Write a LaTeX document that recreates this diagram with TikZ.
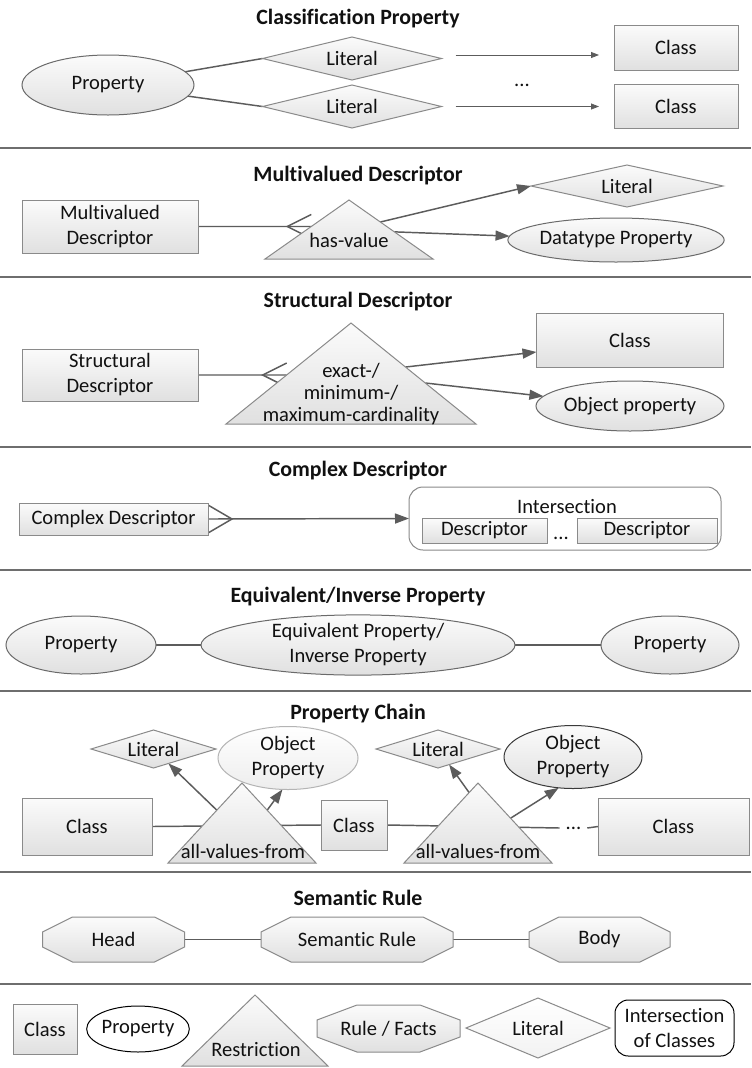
\documentclass[tikz,border=0pt]{standalone}
\usepackage{fontspec}
\setmainfont{Carlito}[Ligatures=NoCommon]
\usetikzlibrary{arrows.meta,shapes.geometric,calc}
\pgfdeclarelayer{background}
\pgfsetlayers{background,main}

\definecolor{ink}{HTML}{111111}
\definecolor{edge}{HTML}{8A8A8A}
\definecolor{ovaledge}{HTML}{6A6A6A}
\definecolor{lightedge}{HTML}{B4B4B4}
\definecolor{darkedge}{HTML}{3A3A3A}
\definecolor{wirecol}{HTML}{5C5C5C}
\definecolor{sepline}{HTML}{6E6E6E}
\definecolor{shadetop}{HTML}{FBFBFB}
\definecolor{shadebot}{HTML}{E0E0E0}

\newcommand\diagbody{\fontsize{15.4}{18.75}\selectfont}
\newcommand\diagtitle{\fontsize{16.4}{20}\selectfont\bfseries}

% elongated octagon: centre x, centre y, half width, half height, cut x, cut y
\newcommand\octagon[6]{%
  \path[octo] ({#1-#3+#5},{#2-#4}) -- ({#1+#3-#5},{#2-#4}) -- ({#1+#3},{#2-#4+#6})
    -- ({#1+#3},{#2+#4-#6}) -- ({#1+#3-#5},{#2+#4}) -- ({#1-#3+#5},{#2+#4})
    -- ({#1-#3},{#2+#4-#6}) -- ({#1-#3},{#2-#4+#6}) -- cycle;}

\tikzset{
  plain/.style={inner sep=0pt, outer sep=0pt, align=center, text=ink, font=\diagbody},
  gradfill/.style={top color=shadetop, bottom color=shadebot},
  box/.style 2 args={plain, gradfill, rectangle, draw=edge, line width=0.75pt,
    minimum width=#1*0.75pt, minimum height=#2*0.75pt},
  oval/.style 2 args={plain, ellipse, draw=ovaledge, line width=0.75pt,
    minimum width=#1*0.75pt, minimum height=#2*0.75pt},
  rhomb/.style 2 args={plain, gradfill, diamond, aspect=3, draw=edge, line width=0.75pt,
    minimum width=#1*0.75pt, minimum height=#2*0.75pt},
  octbox/.style 2 args={plain, minimum width=#1*0.75pt, minimum height=#2*0.75pt},
  tri/.style={gradfill, draw=edge, line width=0.75pt},
  octo/.style={gradfill, draw=edge, line width=0.75pt},
  heading/.style={inner sep=0pt, text=ink, font=\diagtitle},
  link/.style={draw=wirecol, line width=1.1pt},
  conn/.style={link, -{Triangle[length=10.5pt,width=7.5pt]}},
  thinconn/.style={draw=wirecol, line width=0.6pt, -{Triangle[length=6pt,width=4.5pt]}},
  divider/.style={draw=sepline, line width=1.8pt},
}

\begin{document}
\begin{tikzpicture}[x=0.75pt,y=-0.75pt]
\begin{pgfonlayer}{background}
  \fill[white] (0,0) rectangle (751,1068);
\end{pgfonlayer}
\useasboundingbox (0,0) rectangle (751,1068);

% section dividers
\foreach \yy in {148,277,447,570,691,872,984}
  \draw[divider] (0,\yy) -- (751,\yy);

% ---------------- Classification Property
\node[heading] (h1) at (358,19) {Classification Property};
\node[oval={172}{60}, gradfill] (p1) at (108,85) {Property};
\node[rhomb={179}{43}] (l1a) at (352,58.5) {Literal};
\node[rhomb={179}{43}] (l1b) at (352,106.5) {Literal};
\node[box={124}{45}] (c1a) at (676,47.5) {Class};
\node[box={124}{44}] (c1b) at (676,106.5) {Class};
\node[plain] (d1) at (522,85) {...};
\begin{pgfonlayer}{background}
  \draw[link] (p1) -- (l1a.west);
  \draw[link] (p1) -- (l1b.west);
  \draw[thinconn] ($(l1a.east)+(14,-3.5)$) -- ($(c1a.west |- l1a.east)+(-15,-3.5)$);
  \draw[thinconn] ($(l1b.east)+(14,0)$) -- ($(c1b.west)+(-15,0)$);
\end{pgfonlayer}

% ---------------- Multivalued Descriptor
\node[heading] (h2) at (358,176) {Multivalued Descriptor};
\node[box={176}{53}] (mv) at (110,226.5) {Multivalued\\Descriptor};
\path[tri] (349,200) coordinate (t2top) -- (265,259) coordinate (t2l)
  -- (433,259) coordinate (t2r) -- cycle;
\node[plain] (t2) at (349,240) {has-value};
\node[rhomb={192}{42}] (l2) at (627,186) {Literal};
\node[oval={192}{44}, gradfill] (dp) at (616,240) {Datatype Property};
\coordinate (t2hit) at ($(t2l)!{(259-226.5)/59}!(t2top)$);
\begin{pgfonlayer}{background}
  \draw[link] (mv.east) -- (t2hit);
  \draw[link] ($(t2hit)+(0,-12)$) -- ($(t2hit)+(-24,0)$) -- ($(t2hit)+(0,12)$);
  \draw[conn] ($(t2top)!0.373!(t2r)$) -- (l2.west);
  \draw[conn] ($(t2top)!0.54!(t2r)$) -- (dp);
\end{pgfonlayer}

% ---------------- Structural Descriptor
\node[heading] (h3) at (358,302) {Structural Descriptor};
\node[box={176}{52}] (sd) at (110,375) {Structural\\Descriptor};
\path[tri] (351,323) coordinate (t3top) -- (226,424) coordinate (t3l)
  -- (476,424) coordinate (t3r) -- cycle;
\node[plain, font=\fontsize{15.4}{16.5}\selectfont] (t3) at (351,394)
  {exact-/\\minimum-/\\maximum-cardinality};
\node[box={187}{54}] (c3) at (630,340) {Class};
\node[oval={188}{50}, gradfill] (o3) at (630,406) {Object property};
\coordinate (t3hit) at ($(t3l)!{(424-375)/101}!(t3top)$);
\begin{pgfonlayer}{background}
  \draw[link] (sd.east) -- (t3hit);
  \draw[link] ($(t3hit)+(0,-12)$) -- ($(t3hit)+(-24,0)$) -- ($(t3hit)+(0,12)$);
  \draw[conn] ($(t3top)!0.436!(t3r)$) -- ($(c3.west)+(0,12)$);
  \draw[conn] ($(t3top)!0.594!(t3r)$) -- (o3);
\end{pgfonlayer}

% ---------------- Complex Descriptor
\node[heading] (h4) at (358,471) {Complex Descriptor};
\node[box={189}{32}] (cd) at (113.5,519) {Complex Descriptor};
\node[plain, rounded corners=10.5pt, draw=edge, line width=0.75pt, fill=white,
  minimum width=312*0.75pt, minimum height=63*0.75pt] (in4) at (565,518.5) {};
\node[plain] (in4t) at (567,507) {Intersection};
\node[box={125}{25}] (ds1) at (484.5,530.5) {Descriptor};
\node[plain, anchor=base] (d4) at (561,539) {...};
\node[box={140}{25}] (ds2) at (647,530.5) {Descriptor};
\begin{pgfonlayer}{background}
  \draw[link] ($(cd.east)+(0,-14)$) -- ($(cd.east)+(24,0)$) -- ($(cd.east)+(0,14)$);
  \draw[conn] (cd.east) -- (in4.west);
\end{pgfonlayer}

% ---------------- Equivalent/Inverse Property
\node[heading] (h5) at (358,597) {Equivalent/Inverse Property};
\node[oval={150}{58}, gradfill] (p5a) at (81,645) {Property};
\node[oval={314}{60}, gradfill] (eq) at (358,645) {Equivalent Property/\\Inverse Property};
\node[oval={138}{58}, gradfill] (p5b) at (670,645) {Property};
\begin{pgfonlayer}{background}
  \draw[link] (p5a.east) -- (eq.west);
  \draw[link] (eq.east) -- (p5b.west);
\end{pgfonlayer}

% ---------------- Property Chain
\node[heading] (h6) at (358,714) {Property Chain};
\node[rhomb={125}{38}] (l6a) at (153.5,749) {Literal};
\node[oval={140}{63}, draw=lightedge, top color=white, bottom color=black!7] (o6a) at (288,758) {Object\\Property};
\node[rhomb={124}{38}] (l6b) at (438,749) {Literal};
\node[oval={138}{63}, draw=darkedge, gradfill] (o6b) at (573,757) {Object\\Property};
\node[box={130}{57}] (c6a) at (87,826.5) {Class};
\path[tri] (242,783) coordinate (t6atop) -- (168,863) coordinate (t6al)
  -- (316,863) coordinate (t6ar) -- cycle;
\node[plain] (t6a) at (243,851) {all-values-from};
\node[box={66}{50}] (c6b) at (354,825) {Class};
\path[tri] (478,783) coordinate (t6btop) -- (404,863) coordinate (t6bl)
  -- (552,863) coordinate (t6br) -- cycle;
\node[plain] (t6b) at (478,851) {all-values-from};
\node[plain] (d6) at (573.5,828) {...};
\node[box={151}{57}] (c6c) at (673.5,826.5) {Class};
\begin{pgfonlayer}{background}
  \draw[link] (c6a.east) -- (c6b.west);
  \draw[link] (c6b.east) -- ($(d6.west)+(-6,0)$);
  \draw[link] ($(d6.east)+(6,0)$) -- (c6c.west);
  \draw[conn] ($(t6atop)!0.34!(t6al)$) -- (l6a);
  \draw[conn] ($(t6atop)!0.34!(t6ar)$) -- (o6a.-100);
  \draw[conn] ($(t6btop)!0.12!(t6bl)$) -- (l6b);
  \draw[conn] ($(t6btop)!0.44!(t6br)$) -- (o6b.-115);
\end{pgfonlayer}

% ---------------- Semantic Rule
\node[heading] (h7) at (358,898) {Semantic Rule};
\octagon{113.5}{939.5}{71}{22.5}{30}{15}
\node[octbox={142}{45}] (hd) at (113.5,939.5) {Head};
\octagon{357}{939.5}{96}{22.5}{30}{15}
\node[octbox={192}{45}] (sr) at (357,939.5) {Semantic Rule};
\octagon{599.5}{939.5}{70.5}{22.5}{30}{15}
\node[octbox={141}{45}] (bd) at (599.5,939.5) {Body};
\begin{pgfonlayer}{background}
  \draw[link] (hd.east) -- (sr.west);
  \draw[link] (sr.east) -- (bd.west);
\end{pgfonlayer}

% ---------------- Key
\node[box={64}{50}] (kc) at (45,1029) {Class};
\node[oval={100}{46}, draw=black, fill=white] (kp) at (138,1029) {Property};
\path[tri] (255,995) coordinate (kttop) -- (182,1066) coordinate (ktl)
  -- (328,1066) coordinate (ktr) -- cycle;
\node[plain] (kt) at (256,1049) {Restriction};
\octagon{388.5}{1028.5}{71.5}{23.5}{40}{15}
\node[octbox={143}{47}] (kr) at (388.5,1028.5) {Rule / Facts};
\node[rhomb={144}{60}, top color=white, bottom color=black!5] (kl) at (538,1028) {Literal};
\node[plain, draw=black, line width=0.75pt, rounded corners=10pt, fill=white,
  minimum width=119*0.75pt, minimum height=56*0.75pt] (ki) at (674.5,1028)
  {Intersection\\of Classes};
\end{tikzpicture}
\end{document}
